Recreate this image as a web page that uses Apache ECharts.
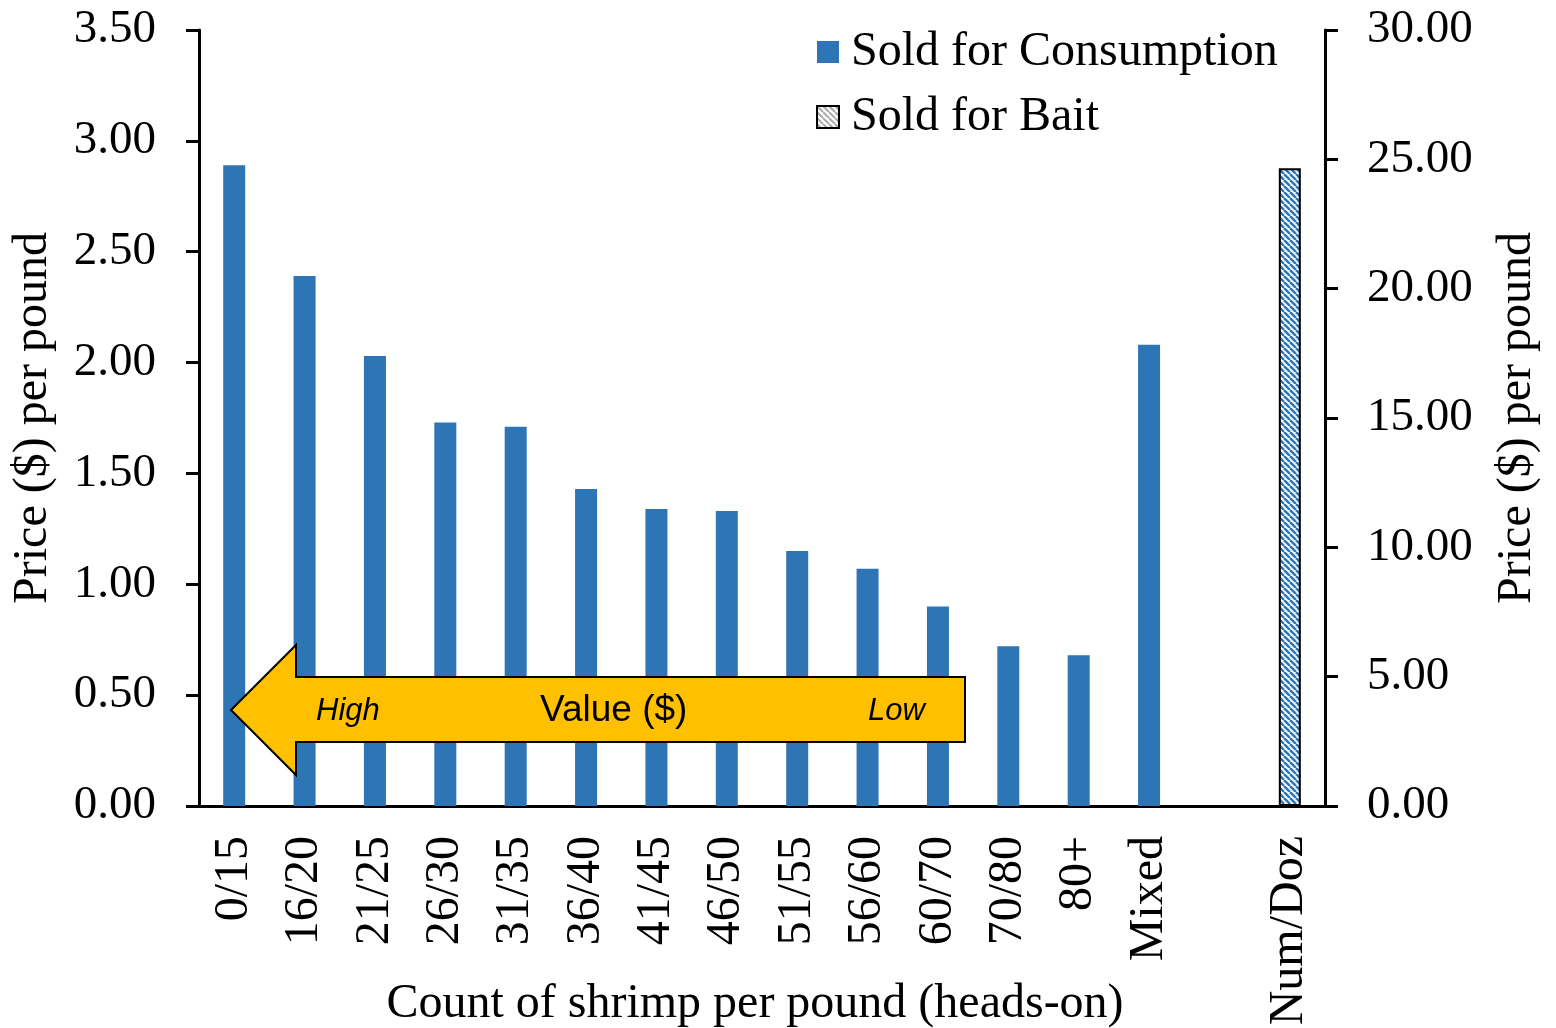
<!DOCTYPE html>
<html>
<head>
<meta charset="utf-8">
<script src="https://cdn.jsdelivr.net/npm/echarts@6/dist/echarts.min.js"></script>
<style>
  html, body { margin: 0; padding: 0; background: #fff; }
  #main { width: 1556px; height: 1028px; }
</style>
</head>
<body>
<div id="main"></div>
<script>
var categories = ['0/15', '16/20', '21/25', '26/30', '31/35', '36/40', '41/45', '46/50',
	'51/55', '56/60', '60/70', '70/80', '80+', 'Mixed', '', 'Num/Doz'];
var consumption = [2.89, 2.39, 2.03, 1.73, 1.71, 1.43, 1.34, 1.33, 1.15, 1.07, 0.90, 0.72, 0.68, 2.08, '-', '-'];
var bait = ['-', '-', '-', '-', '-', '-', '-', '-', '-', '-', '-', '-', '-', '-', '-', 24.66];
var leftTicks = { min: 0, max: 3.5, interval: 0.5 };
var rightTicks = { min: 0, max: 30, interval: 5 };

var serif = '"Liberation Serif", "Times New Roman", serif';
var sans = '"Liberation Sans", Arial, sans-serif';
var blue = '#2E75B6';

// hatch pattern for the bait bar
function hatch(color, size, lw) {
	var c = document.createElement('canvas');
	c.width = size; c.height = size;
	var ctx = c.getContext('2d');
	ctx.fillStyle = '#fff';
	ctx.fillRect(0, 0, size, size);
	ctx.strokeStyle = color;
	ctx.lineWidth = lw;
	for (var k = -1; k <= 1; k++) {
		ctx.beginPath();
		ctx.moveTo(k * size, 0);
		ctx.lineTo(k * size + size, size);
		ctx.stroke();
	}
	return { image: c, repeat: 'repeat' };
}

var myChart = echarts.init(document.getElementById('main'));
var option = {
	animation: false,
	backgroundColor: '#fff',
	grid: { left: 199, right: 231, top: 30, bottom: 222, outerBoundsMode: 'none', containLabel: false },
	legend: {
		orient: 'vertical',
		left: 811,
		top: 23,
		icon: 'rect',
		itemWidth: 22,
		itemHeight: 22,
		itemGap: 17,
		textStyle: { fontFamily: serif, fontSize: 48, color: '#000', padding: [0, 0, 0, 7] },
		data: [
			{ name: 'Sold for Consumption', itemStyle: { color: blue } },
			{ name: 'Sold for Bait', itemStyle: { color: hatch('#aaa', 6, 2), borderColor: '#000', borderWidth: 2 } }
		]
	},
	xAxis: {
		type: 'category',
		data: categories,
		axisLine: { lineStyle: { color: '#000', width: 3 } },
		axisTick: { show: false },
		axisLabel: {
			rotate: 90, interval: 0, margin: 30,
			fontFamily: serif, fontSize: 48, color: '#000'
		},
		name: 'Count of shrimp per pound (heads-on)',
		nameLocation: 'middle',
		nameGap: 174,
		nameMoveOverlap: false,
		nameTextStyle: { fontFamily: serif, fontSize: 48, color: '#000', padding: [0, 14, 0, 0] }
	},
	yAxis: [
		{
			type: 'value',
			min: leftTicks.min, max: leftTicks.max, interval: leftTicks.interval,
			splitLine: { show: false },
			axisLine: { show: true, lineStyle: { color: '#000', width: 3 } },
			axisTick: { show: true, length: 13, lineStyle: { color: '#000', width: 3 } },
			axisLabel: {
				margin: 43, fontFamily: serif, fontSize: 47, color: '#000',
				formatter: function (v) { return v.toFixed(2); }
			},
			name: 'Price ($) per pound',
			nameLocation: 'middle',
			nameRotate: 90,
			nameGap: 142,
			nameMoveOverlap: false,
			nameTextStyle: { fontFamily: serif, fontSize: 48, color: '#000' }
		},
		{
			type: 'value',
			position: 'right',
			min: rightTicks.min, max: rightTicks.max, interval: rightTicks.interval,
			splitLine: { show: false },
			axisLine: { show: true, lineStyle: { color: '#000', width: 3 } },
			axisTick: { show: true, length: 13, lineStyle: { color: '#000', width: 3 } },
			axisLabel: {
				margin: 42, fontFamily: serif, fontSize: 47, color: '#000',
				formatter: function (v) { return v.toFixed(2); }
			},
			name: 'Price ($) per pound',
			nameLocation: 'middle',
			nameRotate: 90,
			nameGap: 168,
			nameMoveOverlap: false,
			nameTextStyle: { fontFamily: serif, fontSize: 48, color: '#000' }
		}
	],
	series: [
		{
			name: 'Sold for Consumption',
			type: 'bar',
			yAxisIndex: 0,
			barWidth: 22,
			barGap: '-100%',
			itemStyle: { color: blue },
			data: consumption
		},
		{
			name: 'Sold for Bait',
			type: 'bar',
			yAxisIndex: 1,
			barWidth: 22,
			itemStyle: { color: hatch(blue, 6, 2.5), borderColor: '#000', borderWidth: 2 },
			data: bait
		}
	],
	graphic: [
		{
			type: 'polygon',
			shape: { points: [[231, 710], [296, 645], [296, 677], [965, 677], [965, 742], [296, 742], [296, 775]] },
			style: { fill: '#FFC000', stroke: '#000', lineWidth: 2 },
			z: 10
		},
		{
			type: 'text', left: 316, top: 696, z: 11,
			style: { text: 'High', font: 'italic 31px ' + sans, fill: '#000' }
		},
		{
			type: 'text', left: 540, top: 692, z: 11,
			style: { text: 'Value ($)', font: '37px ' + sans, fill: '#000' }
		},
		{
			type: 'text', left: 868, top: 696, z: 11,
			style: { text: 'Low', font: 'italic 31px ' + sans, fill: '#000' }
		}
	]
};

myChart.setOption(option);
window.onresize = () => myChart.resize();
</script>
</body>
</html>
